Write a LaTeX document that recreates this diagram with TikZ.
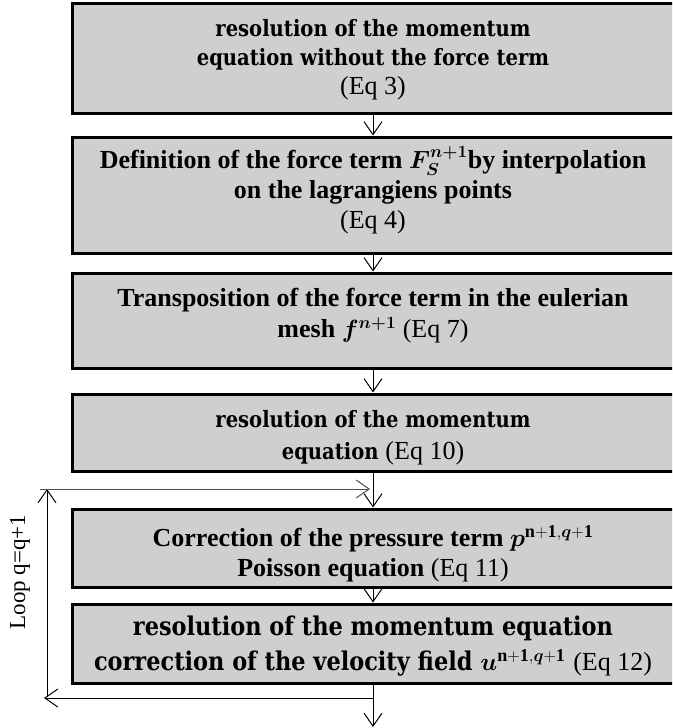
\documentclass[tikz,border=0pt]{standalone}
\usepackage{fontspec}
\usepackage{amsmath,bm}
\setmainfont{Liberation Serif}
\newfontfamily\cam{DejaVu Serif}[FakeStretch=0.87]
\newcommand\camf{\cam\bfseries\fontsize{22.5}{30}\selectfont}
\newcommand\camg{\cam\bfseries\fontsize{25.8}{35}\selectfont}
\newcommand\tmr{\rmfamily\mdseries\fontsize{26}{30}\selectfont}
\usetikzlibrary{arrows.meta}
\definecolor{boxgray}{RGB}{208,206,207}
\definecolor{loopgray}{RGB}{80,80,80}
\begin{document}
\begin{tikzpicture}[x=1pt,y=-1pt,
  box/.style={draw=black, line width=3pt, fill=boxgray, minimum width=602pt, inner sep=0pt},
  txt/.style={inner sep=0pt, align=center, font=\fontsize{26}{31}\selectfont},
  arr/.style={line width=1pt, -{Straight Barb[length=13pt,width=18pt]}}]
\useasboundingbox (0,0) rectangle (672,728);
\clip (0,0) rectangle (672,728);

\node[box, minimum height=110pt] (b1) at (373,58) {};
\node[box, minimum height=116pt] (b2) at (373,195) {};
\node[box, minimum height=95pt]  (b3) at (373,320.5) {};
\node[box, minimum height=77pt]  (b4) at (373,432.5) {};
\node[box, minimum height=78pt]  (b5) at (373,548) {};
\node[box, minimum height=79pt]  (b6) at (373,643.5) {};

\node[txt, font=\fontsize{26}{29}\selectfont] (t1) at ([yshift=-2pt]b1.center)
  {\camf resolution of the momentum\\ \camf equation without the force term\\ \tmr (Eq 3)};
\node[txt, font=\fontsize{26}{30}\selectfont] (t2) at ([yshift=5pt]b2.center)
  {\bfseries Definition of the force term $\bm{F_S^{n+1}}$by interpolation\\ \bfseries on the lagrangiens points\\ \mdseries (Eq 4)};
\node[txt] (t3) at ([yshift=5pt]b3.center)
  {\bfseries Transposition of the force term in the eulerian\\ \bfseries mesh $\bm{f^{n+1}}$ \mdseries (Eq 7)};
\node[txt, font=\fontsize{26}{32}\selectfont] (t4) at ([yshift=-5pt]b4.center)
  {\camf resolution of the momentum\\ \camf equation {\tmr (Eq 10)}};
\node[txt, font=\fontsize{26}{30}\selectfont] (t5) at ([yshift=-6pt]b5.center)
  {\bfseries Correction of the pressure term $\bm{p}^{\mathbf{n+1},\bm{q}\mathbf{+1}}$\\ \bfseries Poisson equation \mdseries (Eq 11)};
\node[txt, font=\fontsize{26}{35}\selectfont] (t6) at ([yshift=-3pt]b6.center)
  {\camg resolution of the momentum equation\\ \camg correction of the velocity field $\bm{u}^{\mathbf{n+1},\bm{q}\mathbf{+1}}$ {\tmr (Eq 12)}};

\coordinate (end) at (373,727);
\coordinate (lb) at (373,698);
\coordinate (ll) at (44,698);
\coordinate (lv) at (47,697);
\coordinate (lt) at (47,489);
\coordinate (ts) at (40,489);
\coordinate (te) at (370,489);

\draw[arr] (b1.south) -- (b2.north);
\draw[arr] (b2.south) -- (b3.north);
\draw[arr] (b3.south) -- (b4.north);
\draw[arr] (b4.south) -- (b5.north);
\draw[arr] (b5.south) -- (b6.north);
\draw[arr] (b6.south) -- (end);
\draw[arr] (lb) -- (ll);
\draw[arr] (lv) -- (lt);
\draw[arr, draw=loopgray] (ts) -- (te);

\node[rotate=90, font=\fontsize{23}{28}\selectfont, inner sep=0pt] (looplbl) at (20,572) {Loop q=q+1};
\end{tikzpicture}
\end{document}
